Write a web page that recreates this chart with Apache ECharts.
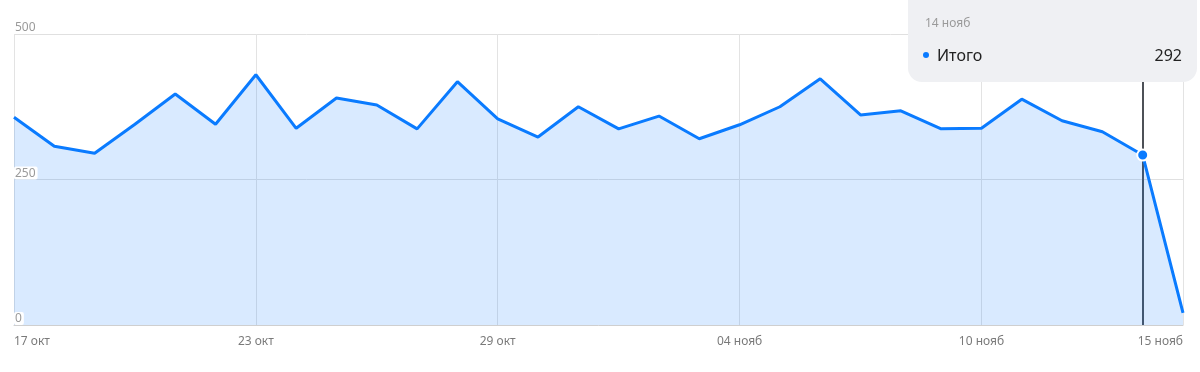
<!DOCTYPE html>
<html><head><meta charset="utf-8">
<script src="https://cdn.jsdelivr.net/npm/echarts@6/dist/echarts.min.js"></script>
<style>html,body{margin:0;padding:0;background:#fff}#c{width:1200px;height:372px}</style>
</head><body><div id="c"></div>
<script>
const categories = ["17 окт","18 окт","19 окт","20 окт","21 окт","22 окт","23 окт","24 окт","25 окт","26 окт","27 окт","28 окт","29 окт","30 окт","31 окт","01 нояб","02 нояб","03 нояб","04 нояб","05 нояб","06 нояб","07 нояб","08 нояб","09 нояб","10 нояб","11 нояб","12 нояб","13 нояб","14 нояб","15 нояб"];
const totals = [357,307,295,345,397,345,430,338,390,378,337,418,354,323,375,337,359,320,344,375,423,361,368,337,338,388,351,332,292,21];
const yTicks = [0,250,500];
const seriesName = "Итого";
const hoverIndex = 28;

const chart = echarts.init(document.getElementById('c'), null, {renderer:'canvas'});
const showIdx = i => i % 6 === 0 || i === categories.length - 1;
const fill = 'rgba(10,123,255,0.155)';
chart.setOption({
  animation:false,
  grid:{left:14,right:17,top:34,bottom:47,containLabel:false},
  xAxis:{type:'category',data:categories,boundaryGap:false,
    axisLine:{show:true,lineStyle:{color:'#cfcfcf',width:1}},
    axisTick:{show:false},
    axisLabel:{interval:(i)=>showIdx(i),color:'#7a7a7a',fontSize:12,fontFamily:'Noto Sans',margin:11,alignMinLabel:'left',alignMaxLabel:'right'},
    splitLine:{show:true,interval:(i)=>showIdx(i),lineStyle:{color:'#e3e3e3',width:1}}
  },
  yAxis:[{type:'value',min:yTicks[0],max:yTicks[2],interval:250,
    axisLine:{show:false},axisTick:{show:false},axisLabel:{show:false},
    splitLine:{show:true,lineStyle:{color:'#e0e0e0',width:1}}
  },{type:'value',min:yTicks[0],max:yTicks[2],interval:250,z:10,position:'left',
    axisLine:{show:false},axisTick:{show:false},splitLine:{show:false},
    axisLabel:{inside:true,verticalAlign:'bottom',align:'left',margin:0,color:'#9a9a9a',fontSize:12,fontFamily:'Noto Sans',
      backgroundColor:'#fff',padding:[1,2,0,1],borderRadius:2}
  }],
  tooltip:{trigger:'axis',alwaysShowContent:true,transitionDuration:0,
    backgroundColor:'#eff0f3',borderWidth:0,padding:0,extraCssText:'border-radius:14px;box-shadow:none;',
    position:()=>[908,-14],
    axisPointer:{type:'line',lineStyle:{color:'#4d5157',width:2,type:'solid'},z:1},
    formatter:(params)=>{
      const p = params[0];
      return '<div style="width:289px;height:96px;position:relative;font-family:Noto Sans,sans-serif">'+
        '<div style="position:absolute;left:17px;top:26px;font-size:12px;color:#9a9a9a">'+p.name+'</div>'+
        '<div style="position:absolute;left:15px;top:59px;font-size:16px;color:#222"><span style="display:inline-block;width:6px;height:6px;border-radius:3px;background:#0a7bff;vertical-align:middle;margin-right:8px;position:relative;top:-2px"></span>'+seriesName+'</div>'+
        '<div style="position:absolute;right:15px;top:59px;font-size:16px;color:#222">'+p.value+'</div></div>';
    }
  },
  series:[{name:seriesName,type:'line',data:totals,showSymbol:false,symbol:'circle',symbolSize:11,yAxisIndex:0,
    lineStyle:{color:'#0a7bff',width:3},itemStyle:{color:'#0a7bff',borderColor:'#fff',borderWidth:2},
    areaStyle:{color:fill,opacity:1},
    emphasis:{scale:false,lineStyle:{color:'#0a7bff',width:3},areaStyle:{color:fill,opacity:1},itemStyle:{color:'#0a7bff',borderColor:'#fff',borderWidth:2}}
  }]
});
chart.dispatchAction({type:'showTip',seriesIndex:0,dataIndex:hoverIndex});
</script></body></html>
